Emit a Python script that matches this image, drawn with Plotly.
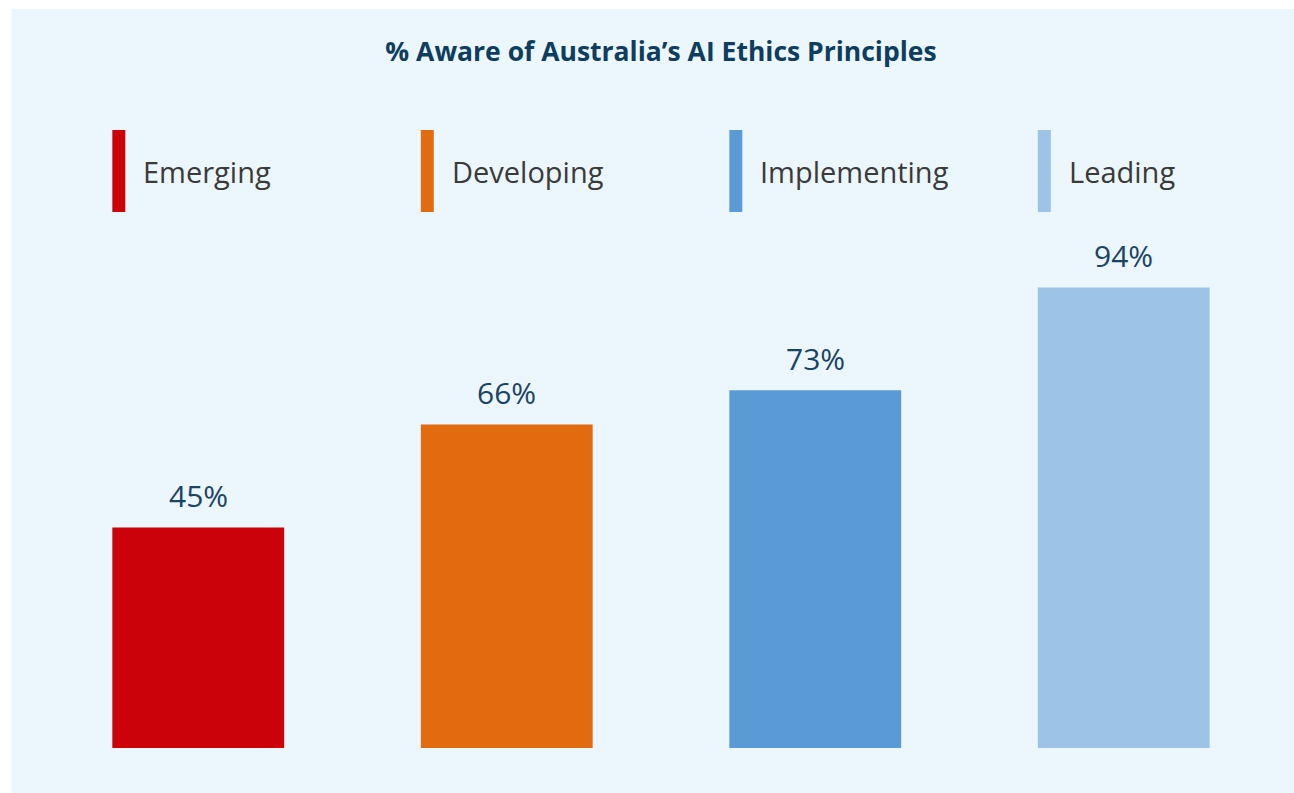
import plotly.graph_objects as go

categories = ["Emerging", "Developing", "Implementing", "Leading"]
values = [45, 66, 73, 94]
value_labels = ["45%", "66%", "73%", "94%"]
colors = ["#CC020A", "#E26B10", "#5B9BD5", "#9DC3E6"]

W, H = 1294, 793
ml, mr, mt, mb = 43.5, 15.5, 258, 45
plot_h = H - mt - mb
px_w = W - ml - mr
bar_w = 0.557

fig = go.Figure()
fig.add_trace(go.Bar(
    x=categories, y=values, marker=dict(color=colors, line=dict(width=0)),
    width=bar_w, hoverinfo="skip", showlegend=False,
))

def py(p):
    """page pixel y -> paper y"""
    return (H - mb - p) / plot_h

def pxx(p):
    """page pixel x -> paper x"""
    return (p - ml) / px_w

shapes = []
annotations = []
for i, (cat, col, val, lab) in enumerate(zip(categories, colors, values, value_labels)):
    x0 = i - bar_w / 2
    shapes.append(dict(type="rect", xref="x", yref="paper",
                       x0=x0, x1=x0 + 13 / 309, y0=py(212), y1=py(130),
                       fillcolor=col, line=dict(width=0), layer="above"))
    annotations.append(dict(xref="x", yref="paper", x=x0 + 29 / 309, y=py(171),
                            text=cat, showarrow=False, xanchor="left", yanchor="middle",
                            font=dict(family="Open Sans", size=29, color="#3A3A3A")))
    annotations.append(dict(xref="x", yref="y", x=cat, y=val, text=lab,
                            showarrow=False, xanchor="center", yanchor="middle",
                            yshift=32,
                            font=dict(family="Open Sans", size=30, color="#1C4463")))

# thin white border strips (left and top) outside the chart card
shapes.append(dict(type="rect", xref="paper", yref="paper",
                   x0=pxx(-10), x1=pxx(11), y0=py(900), y1=py(-50),
                   fillcolor="white", line=dict(width=0), layer="below"))
shapes.append(dict(type="rect", xref="paper", yref="paper",
                   x0=pxx(-10), x1=pxx(1400), y0=py(9), y1=py(-50),
                   fillcolor="white", line=dict(width=0), layer="below"))

fig.update_layout(
    width=W, height=H,
    margin=dict(l=ml, r=mr, t=mt, b=mb, pad=0),
    paper_bgcolor="#EBF6FD", plot_bgcolor="rgba(0,0,0,0)",
    bargap=1 - bar_w,
    title=dict(text="<b>% Aware of Australia’s AI Ethics Principles</b>",
               x=0.5, xref="paper", xanchor="center",
               y=1 - 52 / H, yref="container", yanchor="middle",
               font=dict(family="Open Sans", size=26.5, color="#0E3D5E")),
    xaxis=dict(visible=False, range=[-0.5, 3.5]),
    yaxis=dict(visible=False, range=[0, 100]),
    shapes=shapes, annotations=annotations,
)

fig.write_html(
    "out.html",
    config={"displayModeBar": False},
    post_script="document.body.style.margin='0';document.body.style.overflow='hidden';",
)
